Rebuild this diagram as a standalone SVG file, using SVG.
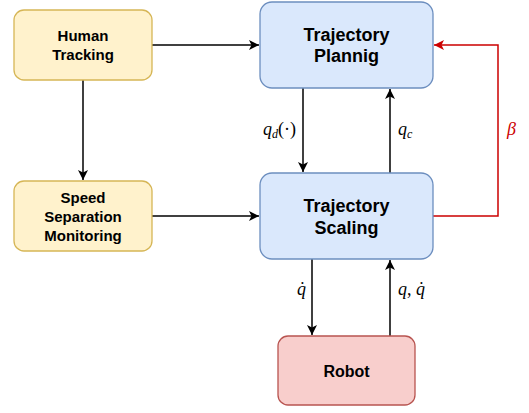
<svg xmlns="http://www.w3.org/2000/svg" width="529" height="413" viewBox="0 0 529 413">
<defs>
<marker id="ah" viewBox="0 0 10 10" refX="10" refY="5" markerWidth="10" markerHeight="10" markerUnits="userSpaceOnUse" orient="auto"><path d="M0,0 L10,5 L0,10 L2.5,5 Z" fill="#000"/></marker>
<marker id="ahr" viewBox="0 0 10 10" refX="10" refY="5" markerWidth="10" markerHeight="10" markerUnits="userSpaceOnUse" orient="auto"><path d="M0,0 L10,5 L0,10 L2.5,5 Z" fill="#cc0000"/></marker>
<style>
.y{fill:#fff2cc;stroke:#d6b656;stroke-width:1.3}
.b{fill:#dae8fc;stroke:#6c8ebf;stroke-width:1.3}
.r{fill:#f8cecc;stroke:#b85450;stroke-width:1.3}
.t{font-family:"Liberation Sans",Arial,sans-serif;font-weight:bold;text-anchor:middle;fill:#000}
.s{font-size:15px}
.l{font-size:18px}
.e{fill:none;stroke:#000;stroke-width:1.5}
.m{font-family:"Liberation Serif","Times New Roman",serif;font-size:18px;font-style:italic;fill:#000}
</style>
</defs>
<g id="connectors">
<path class="e" d="M152,45 H259" marker-end="url(#ah)"/>
<path class="e" d="M83,80 V180" marker-end="url(#ah)"/>
<path class="e" d="M152,216 H259" marker-end="url(#ah)"/>
<path class="e" d="M303,88 V172" marker-end="url(#ah)"/>
<path class="e" d="M390,173 V89" marker-end="url(#ah)"/>
<path class="e" d="M312,259 V335" marker-end="url(#ah)"/>
<path class="e" d="M390,336 V260" marker-end="url(#ah)"/>
<path d="M433,216 H498 V45 H434" fill="none" stroke="#cc0000" stroke-width="1.5" marker-end="url(#ahr)"/>
<text class="m" x="263" y="135">q<tspan font-size="12" dy="3">d</tspan><tspan font-style="normal" dy="-3">(·)</tspan></text>
<text class="m" x="398" y="135">q<tspan font-size="12" dy="3">c</tspan></text>
<text class="m" x="507" y="135" style="fill:#cc0000">β</text>
<text class="m" x="297" y="295">q̇</text>
<text class="m" x="398" y="295">q<tspan font-style="normal">,</tspan> q̇</text>
</g>
<g id="human-tracking">
<rect class="y" x="14" y="10" width="138" height="70" rx="10"/>
<text class="t s" x="83" y="41">Human</text>
<text class="t s" x="83" y="60">Tracking</text>
</g>
<g id="trajectory-planning">
<rect class="b" x="260" y="2" width="173" height="86" rx="12"/>
<text class="t l" x="346.5" y="41">Trajectory</text>
<text class="t l" x="346.5" y="62">Plannig</text>
</g>
<g id="speed-separation-monitoring">
<rect class="y" x="14" y="181" width="138" height="70" rx="10"/>
<text class="t s" x="83" y="203">Speed</text>
<text class="t s" x="83" y="222">Separation</text>
<text class="t s" x="83" y="241">Monitoring</text>
</g>
<g id="trajectory-scaling">
<rect class="b" x="260" y="173" width="173" height="86" rx="12"/>
<text class="t l" x="346.5" y="212">Trajectory</text>
<text class="t l" x="346.5" y="234">Scaling</text>
</g>
<g id="robot">
<rect class="r" x="278" y="336" width="137" height="69" rx="10"/>
<text class="t" x="346.5" y="377" font-size="16">Robot</text>
</g>
</svg>
